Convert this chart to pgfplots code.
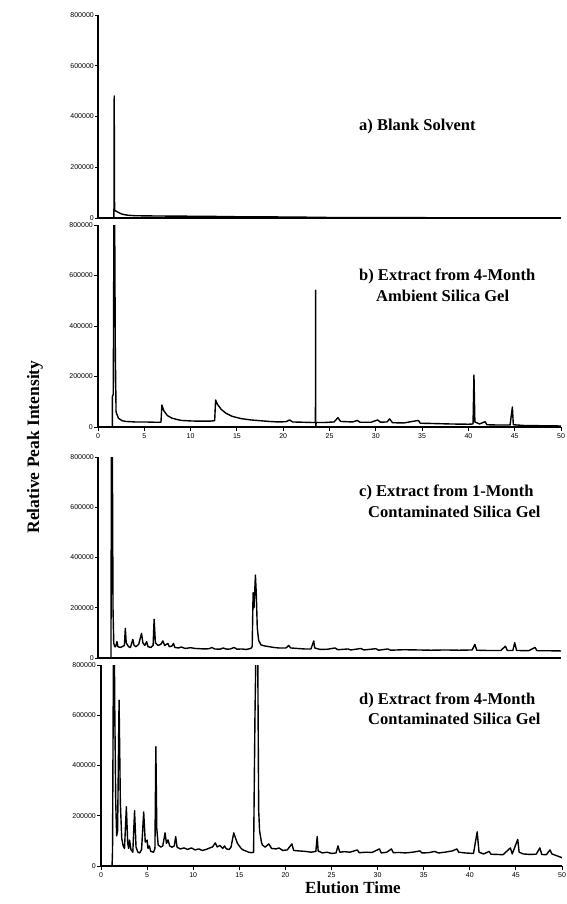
\documentclass[border=0pt]{standalone}
\usepackage{fontspec}
\setmainfont{Liberation Serif}
\newfontfamily\tickfont{Liberation Sans}
\usepackage{pgfplots}
\pgfplotsset{compat=1.18}
\pgfplotsset{chrom/.style={
  scale only axis, width=463pt, xmin=0, xmax=50, ymin=0, ymax=800000,
  axis x line*=bottom, axis y line*=left, clip=true,
  axis line style={black, line width=1.3pt},
  scaled y ticks=false, scaled x ticks=false,
  ytick={0,200000,400000,600000,800000},
  yticklabels={0,200000,400000,600000,800000},
  yticklabel style={font=\tickfont\fontsize{7}{8}\selectfont, inner sep=1pt},
  xticklabel style={font=\tickfont\fontsize{7}{8}\selectfont, inner sep=2pt},
  tick align=outside, major tick length=3pt,
  tick style={black, line width=1pt},
  /pgf/number format/assume math mode=true,
  cycle list={{black, no markers}},
  every axis plot/.append style={line width=1.4pt, line join=round},
  anchor=south west},
  notx/.style={xtick=\empty},
  withx/.style={xtick={0,5,10,15,20,25,30,35,40,45,50},
     xticklabels={0,5,10,15,20,25,30,35,40,45,50}, major tick length=4pt}
}
\begin{document}
\begin{tikzpicture}
\path[use as bounding box] (0,0) rectangle (567pt,-904pt);
% ---------- a) ----------
\begin{axis}[chrom, notx, height=203pt, at={(98pt,-218pt)}]
\addplot coordinates {(1.68,0)(1.72,0)(1.75,481000)(1.79,30000)(1.9,28000)(2.2,22000)(2.6,15000)(3.2,11000)(4,9000)(5,8500)(6,8000)(8,7500)(10,7000)(12,6500)(15,5000)(18,4500)(20,4000)(23,3000)(25,2000)(30,1500)(35,1200)(40,1000)(45,600)(50,0)};
\end{axis}
% ---------- b) ----------
\begin{axis}[chrom, withx, height=202pt, at={(98pt,-427pt)}]
\addplot coordinates {(1.55,0)(1.55,120000)(1.65,130000)(1.72,820000)(1.8,820000)(1.87,300000)(1.95,60000)(2.2,35000)(2.6,25000)(3,22000)(4,20000)(5,20000)(6,19000)(6.8,19000)(6.9,87000)(7.1,65000)(7.5,45000)(8,35000)(8.5,30000)(9,26000)(10,24000)(11,23000)(12,23000)(12.6,25000)(12.7,107000)(12.9,90000)(13.3,70000)(13.8,55000)(14.5,42000)(15.5,33000)(16.5,28000)(17.5,25000)(18.5,22000)(19.5,20000)(20.3,21000)(20.7,28000)(21.0,20000)(22,19000)(23,18000)(23.48,18000)(23.5,542000)(23.52,0)(23.56,18000)(24.5,18000)(25.5,20000)(25.9,37000)(26.2,22000)(27.5,20000)(28.0,26000)(28.3,19000)(29.5,19000)(30.2,28000)(30.5,19000)(31.2,20000)(31.5,32000)(31.8,17000)(33,16000)(34.6,26000)(34.8,15000)(36,14000)(38,12000)(40,11000)(40.5,12000)(40.6,206000)(40.7,20000)(41.2,12000)(41.8,21000)(42.0,9000)(43,8000)(44.5,8000)(44.75,79000)(44.85,9000)(46,6000)(48,5000)(50,4000)};
\end{axis}
% ---------- c) ----------
\begin{axis}[chrom, notx, height=201pt, at={(98pt,-658pt)}]
\addplot coordinates {(1.4,0)(1.45,850000)(1.55,850000)(1.62,200000)(1.7,60000)(1.8,45000)(1.9,45000)(2.05,65000)(2.15,45000)(2.4,42000)(2.6,45000)(2.85,50000)(2.95,118000)(3.05,60000)(3.3,45000)(3.5,42000)(3.76,74000)(3.9,50000)(4.1,45000)(4.4,55000)(4.7,98000)(4.85,60000)(5.05,50000)(5.25,65000)(5.4,45000)(5.7,42000)(5.95,50000)(6.06,154000)(6.2,60000)(6.5,50000)(6.8,55000)(7.0,68000)(7.2,50000)(7.55,58000)(7.7,45000)(8.0,48000)(8.15,58000)(8.3,42000)(8.7,40000)(9.0,44000)(9.4,38000)(10,41000)(10.5,38000)(11,37000)(11.5,36000)(12,37000)(12.3,42000)(12.6,36000)(13.2,35000)(13.5,40000)(13.9,35000)(14.3,36000)(14.7,42000)(15,35000)(15.5,36000)(16,34000)(16.5,38000)(16.65,45000)(16.75,260000)(16.85,200000)(17.0,330000)(17.1,250000)(17.2,120000)(17.35,70000)(17.6,52000)(18,48000)(18.5,45000)(19,42000)(19.5,40000)(20.3,40000)(20.6,50000)(20.8,40000)(21.5,38000)(22.3,36000)(23.0,36000)(23.3,68000)(23.4,40000)(24,34000)(24.8,35000)(25.6,40000)(25.9,33000)(27,36000)(27.3,32000)(28.4,38000)(28.7,32000)(30,37000)(30.3,31000)(31.3,36000)(31.6,31000)(33,33000)(34.5,32000)(36,31000)(37.5,32000)(39,31000)(40.4,32000)(40.7,54000)(40.9,31000)(42,30000)(43.5,30000)(44.0,47000)(44.2,30000)(44.8,30000)(45.0,61000)(45.2,30000)(46.5,29000)(47.2,42000)(47.4,29000)(48.5,29000)(50,28000)};
\end{axis}
% ---------- d) ----------
\begin{axis}[chrom, withx, height=201pt, at={(101pt,-866pt)}, width=461pt]
\addplot coordinates {(1.2,0)(1.25,60000)(1.35,850000)(1.45,850000)(1.5,600000)(1.6,250000)(1.7,120000)(1.8,140000)(1.96,660000)(2.1,250000)(2.25,110000)(2.4,80000)(2.55,70000)(2.75,236000)(2.9,90000)(3.0,70000)(3.1,103000)(3.25,65000)(3.45,55000)(3.64,220000)(3.8,75000)(4.0,55000)(4.2,52000)(4.4,65000)(4.63,215000)(4.8,95000)(5.0,103000)(5.1,70000)(5.24,80000)(5.4,58000)(5.7,55000)(5.85,70000)(5.95,475000)(6.05,150000)(6.2,84000)(6.5,75000)(6.7,80000)(6.95,132000)(7.1,90000)(7.27,104000)(7.45,80000)(7.7,75000)(7.95,80000)(8.1,117000)(8.25,75000)(8.6,68000)(9.0,72000)(9.4,66000)(9.8,72000)(10.2,64000)(10.6,68000)(11,62000)(11.4,66000)(11.8,72000)(12.1,76000)(12.4,92000)(12.6,76000)(12.9,82000)(13.2,70000)(13.4,80000)(13.6,68000)(13.9,66000)(14.1,75000)(14.4,132000)(14.6,110000)(14.8,90000)(15.0,80000)(15.2,70000)(15.4,64000)(15.7,60000)(16.0,55000)(16.3,53000)(16.55,55000)(16.7,600000)(16.8,850000)(17.0,850000)(17.1,223000)(17.2,140000)(17.4,95000)(17.5,84000)(17.8,75000)(18.2,88000)(18.5,70000)(19.0,68000)(19.3,72000)(19.7,62000)(20.2,64000)(20.7,88000)(20.9,62000)(21.5,60000)(22.2,58000)(22.8,55000)(23.3,58000)(23.45,117000)(23.55,60000)(24.0,52000)(24.5,55000)(25.0,50000)(25.5,52000)(25.7,80000)(25.9,55000)(26.4,57000)(27,55000)(27.8,64000)(28.0,53000)(28.8,55000)(29.4,54000)(30.2,68000)(30.4,52000)(31.0,55000)(31.5,68000)(31.7,53000)(32.3,54000)(33,52000)(33.8,55000)(34.6,60000)(34.8,52000)(35.5,53000)(36.2,58000)(36.6,52000)(37.3,55000)(38.1,60000)(38.6,68000)(38.8,55000)(39.5,52000)(40.4,50000)(40.8,136000)(41.0,55000)(41.5,48000)(42.1,58000)(42.3,47000)(43,46000)(43.6,45000)(44.4,72000)(44.6,48000)(45.2,106000)(45.35,55000)(45.8,48000)(46.5,46000)(47.2,47000)(47.6,72000)(47.8,46000)(48.3,45000)(48.7,64000)(48.9,48000)(49.5,40000)(50,33000)};
\end{axis}
% ---------- labels ----------
\begin{scope}[every node/.style={anchor=west, inner sep=0pt, font=\bfseries\fontsize{16.5}{18}\selectfont}]
\node at (359pt,-127pt) {a) Blank Solvent};
\node at (359pt,-276pt) {b) Extract from 4-Month};
\node at (376pt,-296pt) {Ambient Silica Gel};
\node at (359pt,-492pt) {c) Extract from 1-Month};
\node at (368pt,-512pt) {Contaminated Silica Gel};
\node at (359pt,-700pt) {d) Extract from 4-Month};
\node at (368pt,-719pt) {Contaminated Silica Gel};
\end{scope}
\node[rotate=90, font=\bfseries\fontsize{17.5}{19}\selectfont] at (35pt,-447pt) {Relative Peak Intensity};
\node[font=\bfseries\fontsize{17}{19}\selectfont] at (353pt,-888pt) {Elution Time};
\end{tikzpicture}
\end{document}
